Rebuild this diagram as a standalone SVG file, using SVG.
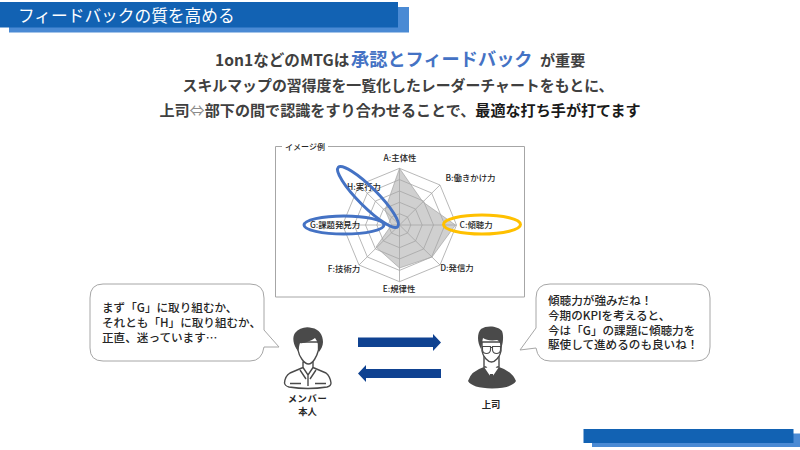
<svg xmlns="http://www.w3.org/2000/svg" width="800" height="450" viewBox="0 0 800 450">
<defs><style>
text{font-family:"Noto Sans CJK JP","Noto Sans",sans-serif;fill:#262626}
.h{font-size:15.100px;font-weight:700;text-anchor:middle;fill:#404040}
.r{font-size:8.400px;font-weight:500;text-anchor:middle}
.b{font-size:11.600px;font-weight:500}
.n{font-size:9.300px;font-weight:700;text-anchor:middle}
.g{fill:none;stroke:#a6a6a6;stroke-width:.8}
.ar{fill:#0f4291}
.bub{fill:#fff;stroke:#a6a6a6;stroke-width:1}
.dk{fill:#4a4a4a}
.ol{fill:#fff;stroke:#4a4a4a;stroke-width:1.400;stroke-linejoin:round}
.ln{fill:none;stroke:#4a4a4a;stroke-width:1.400}
</style></defs>
<rect width="800" height="450" fill="#fff"/>
<g id="title"><rect x="9" y="7" width="400" height="25.500" fill="#4a8ad4"/><rect x="0" y="2" width="398" height="25.500" fill="#1262b3"/>
<text x="18" y="21.500" style="font-size:16.700px;fill:#fff;font-weight:400">フィードバックの質を高める</text></g>
<g id="footer"><rect x="592" y="433.500" width="208" height="13.500" fill="#4a8ad4"/><rect x="583.500" y="429" width="210" height="14" fill="#1262b3"/></g>
<g id="headline">
<text y="66" class="h" style="text-anchor:start"><tspan x="215" style="font-size:15.600px">1on1などのMTGは</tspan><tspan x="351" style="font-size:18.200px;fill:#4472c4">承認とフィードバック</tspan><tspan x="540">が重要</tspan></text>
<text x="398" y="91" class="h" style="font-size:14.900px">スキルマップの習得度を一覧化したレーダーチャートをもとに、</text>
<text x="400" y="116" class="h">上司<tspan style="fill:#8c8c8c;font-weight:400">⇔</tspan>部下の間で認識をすり合わせることで、<tspan style="fill:#1a1a1a">最適な打ち手が打てます</tspan></text></g>
<g id="chart">
<path d="M282 146.500H275.500V297H524.500V146.500H328" fill="none" stroke="#a6a6a6" stroke-width="1"/>
<text x="305" y="149.500" style="font-size:8px;font-weight:500" text-anchor="middle">イメージ例</text>
<path d="M399.500 168.300L423 202L455.500 225L432 257L399.500 268L376 247L391.500 225L385 210Z" fill="#d0d0d0" stroke="#8c8c8c" stroke-width=".5"/>
<path class="g" d="M399.500 168.300L440 185L456.500 225L440 265L399.500 281.700L359 265L342.500 225L359 185Z"/>
<path class="g" d="M399.500 179.600L431.600 193L444.900 225L431.600 257L399.500 270.400L367.400 257L354.100 225L367.400 193Z"/>
<path class="g" d="M399.500 191L423.500 201L433.500 225L423.500 249L399.500 259L375.500 249L365.500 225L375.500 201Z"/>
<path class="g" d="M399.500 202.300L415.500 209L422.200 225L415.500 241L399.500 247.700L383.500 241L376.800 225L383.500 209Z"/>
<path class="g" d="M399.500 213.700L407.500 217L410.800 225L407.500 233L399.500 236.300L391.500 233L388.200 225L391.500 217Z"/>
<path class="g" d="M399.500 168.300V281.700M342.500 225H456.500M359 185L440 265M359 265L440 185"/>
<text x="400" y="161" class="r">A:主体性</text><text x="470.500" y="181" class="r">B:働きかけ力</text><text x="476" y="228" class="r">C:傾聴力</text><text x="457" y="271" class="r">D:発信力</text><text x="399" y="292" class="r">E:規律性</text><text x="344" y="272" class="r">F:技術力</text><text x="335" y="228" class="r">G:課題発見力</text><text x="364" y="190" class="r">H:実行力</text>
<ellipse cx="368" cy="197" rx="42" ry="9.500" transform="rotate(45 368 197)" fill="none" stroke="#4472c4" stroke-width="3"/>
<ellipse cx="344" cy="225" rx="40" ry="9" fill="none" stroke="#4472c4" stroke-width="3"/>
<ellipse cx="482" cy="224.500" rx="38.500" ry="9.500" fill="none" stroke="#ffc000" stroke-width="3"/>
</g>
<g id="bubble-member"><path class="bub" d="M103 284H250Q264 284 264 298V330L279 347L264 347Q262 361 250 361H103Q90 361 90 348V298Q90 284 103 284Z"/>
<text class="b" x="102" y="311.500">まず「G」に取り組むか、</text><text class="b" x="102" y="326.500">それとも「H」に取り組むか、</text><text class="b" x="102" y="341.500">正直、迷っています…</text></g>
<g id="bubble-boss"><path class="bub" d="M550 284H696Q710 284 710 298V347Q710 361 696 361H550Q538 361 536 348L520 350L536 328V298Q536 284 550 284Z"/>
<text class="b" x="548" y="305">傾聴力が強みだね！</text><text class="b" x="548" y="319.500">今期のKPIを考えると、</text><text class="b" x="548" y="334.500">今は「G」の課題に傾聴力を</text><text class="b" x="548" y="349">駆使して進めるのも良いね！</text></g>
<g id="connectors"><path class="ar" d="M358 337.500H433V334L441 342.500L433 351V347H358Z"/><path class="ar" d="M441 369H366V365L358 373.500L366 382V378H441Z"/></g>
<g id="member">
<path class="ol" d="M303 362V367.500L290 373Q285 376 284.500 383Q285 386 289 387Q308 390 327 387Q331 386 331 383Q330 376 326 373L313 367.500V362Z"/>
<path class="ln" d="M303 367.500L308 375L313 367.500M300 370L306 379M316 370L310 379M308 375V386M290 383.500H301M315 383.500H326"/>
<path class="ol" d="M298 342V350C299 356 304 364 308.500 364C313 364 317 356 318.500 350V342Z"/>
<path class="dk" d="M298 351C293 345 292 337 295 333C299 328 306 326 312 328C319 329 323 335 323 342C323 346 321 349 319 352C319 346 318 342 315 338C311 341 303 344 300 343C299 346 299 348 298 351Z"/>
<text class="n" x="307.500" y="401.500" style="letter-spacing:.6px">メンバー</text><text class="n" x="307.500" y="415">本人</text></g>
<g id="boss">
<path class="ol" d="M484 355V367H499V355Z"/>
<path class="dk" d="M484 367L491.500 378L499 367Q512 371 516 381Q512 388 492 388.500Q472 388 468 381Q471 371 484 367Z"/>
<path d="M486 366L491.500 374L497 366V365H486Z" fill="#fff"/>
<path class="dk" d="M490 374H493L494.500 382L491.500 387L488.500 382Z"/>
<path class="ol" d="M482 342V351C483 357 488 362 491.500 362C495 362 500 357 501 351V342Z"/>
<path class="dk" d="M481 349C477 342 477 333 481 329C487 325 498 326 502 331C504 336 503 344 501 349C501 345 500 341 497 340C491 341 486 340 483 338C482 342 482 345 481 349Z"/>
<path class="ln" style="stroke-width:1.100" d="M482.500 346.500H490.500V350Q490 353.500 486.500 353.500Q483 353.500 482.500 350ZM492.500 346.500H500.500V350Q500 353.500 496.500 353.500Q493 353.500 492.500 350ZM490.500 347.500H492.500"/>
<text class="n" x="491" y="407.500">上司</text></g>
</svg>
